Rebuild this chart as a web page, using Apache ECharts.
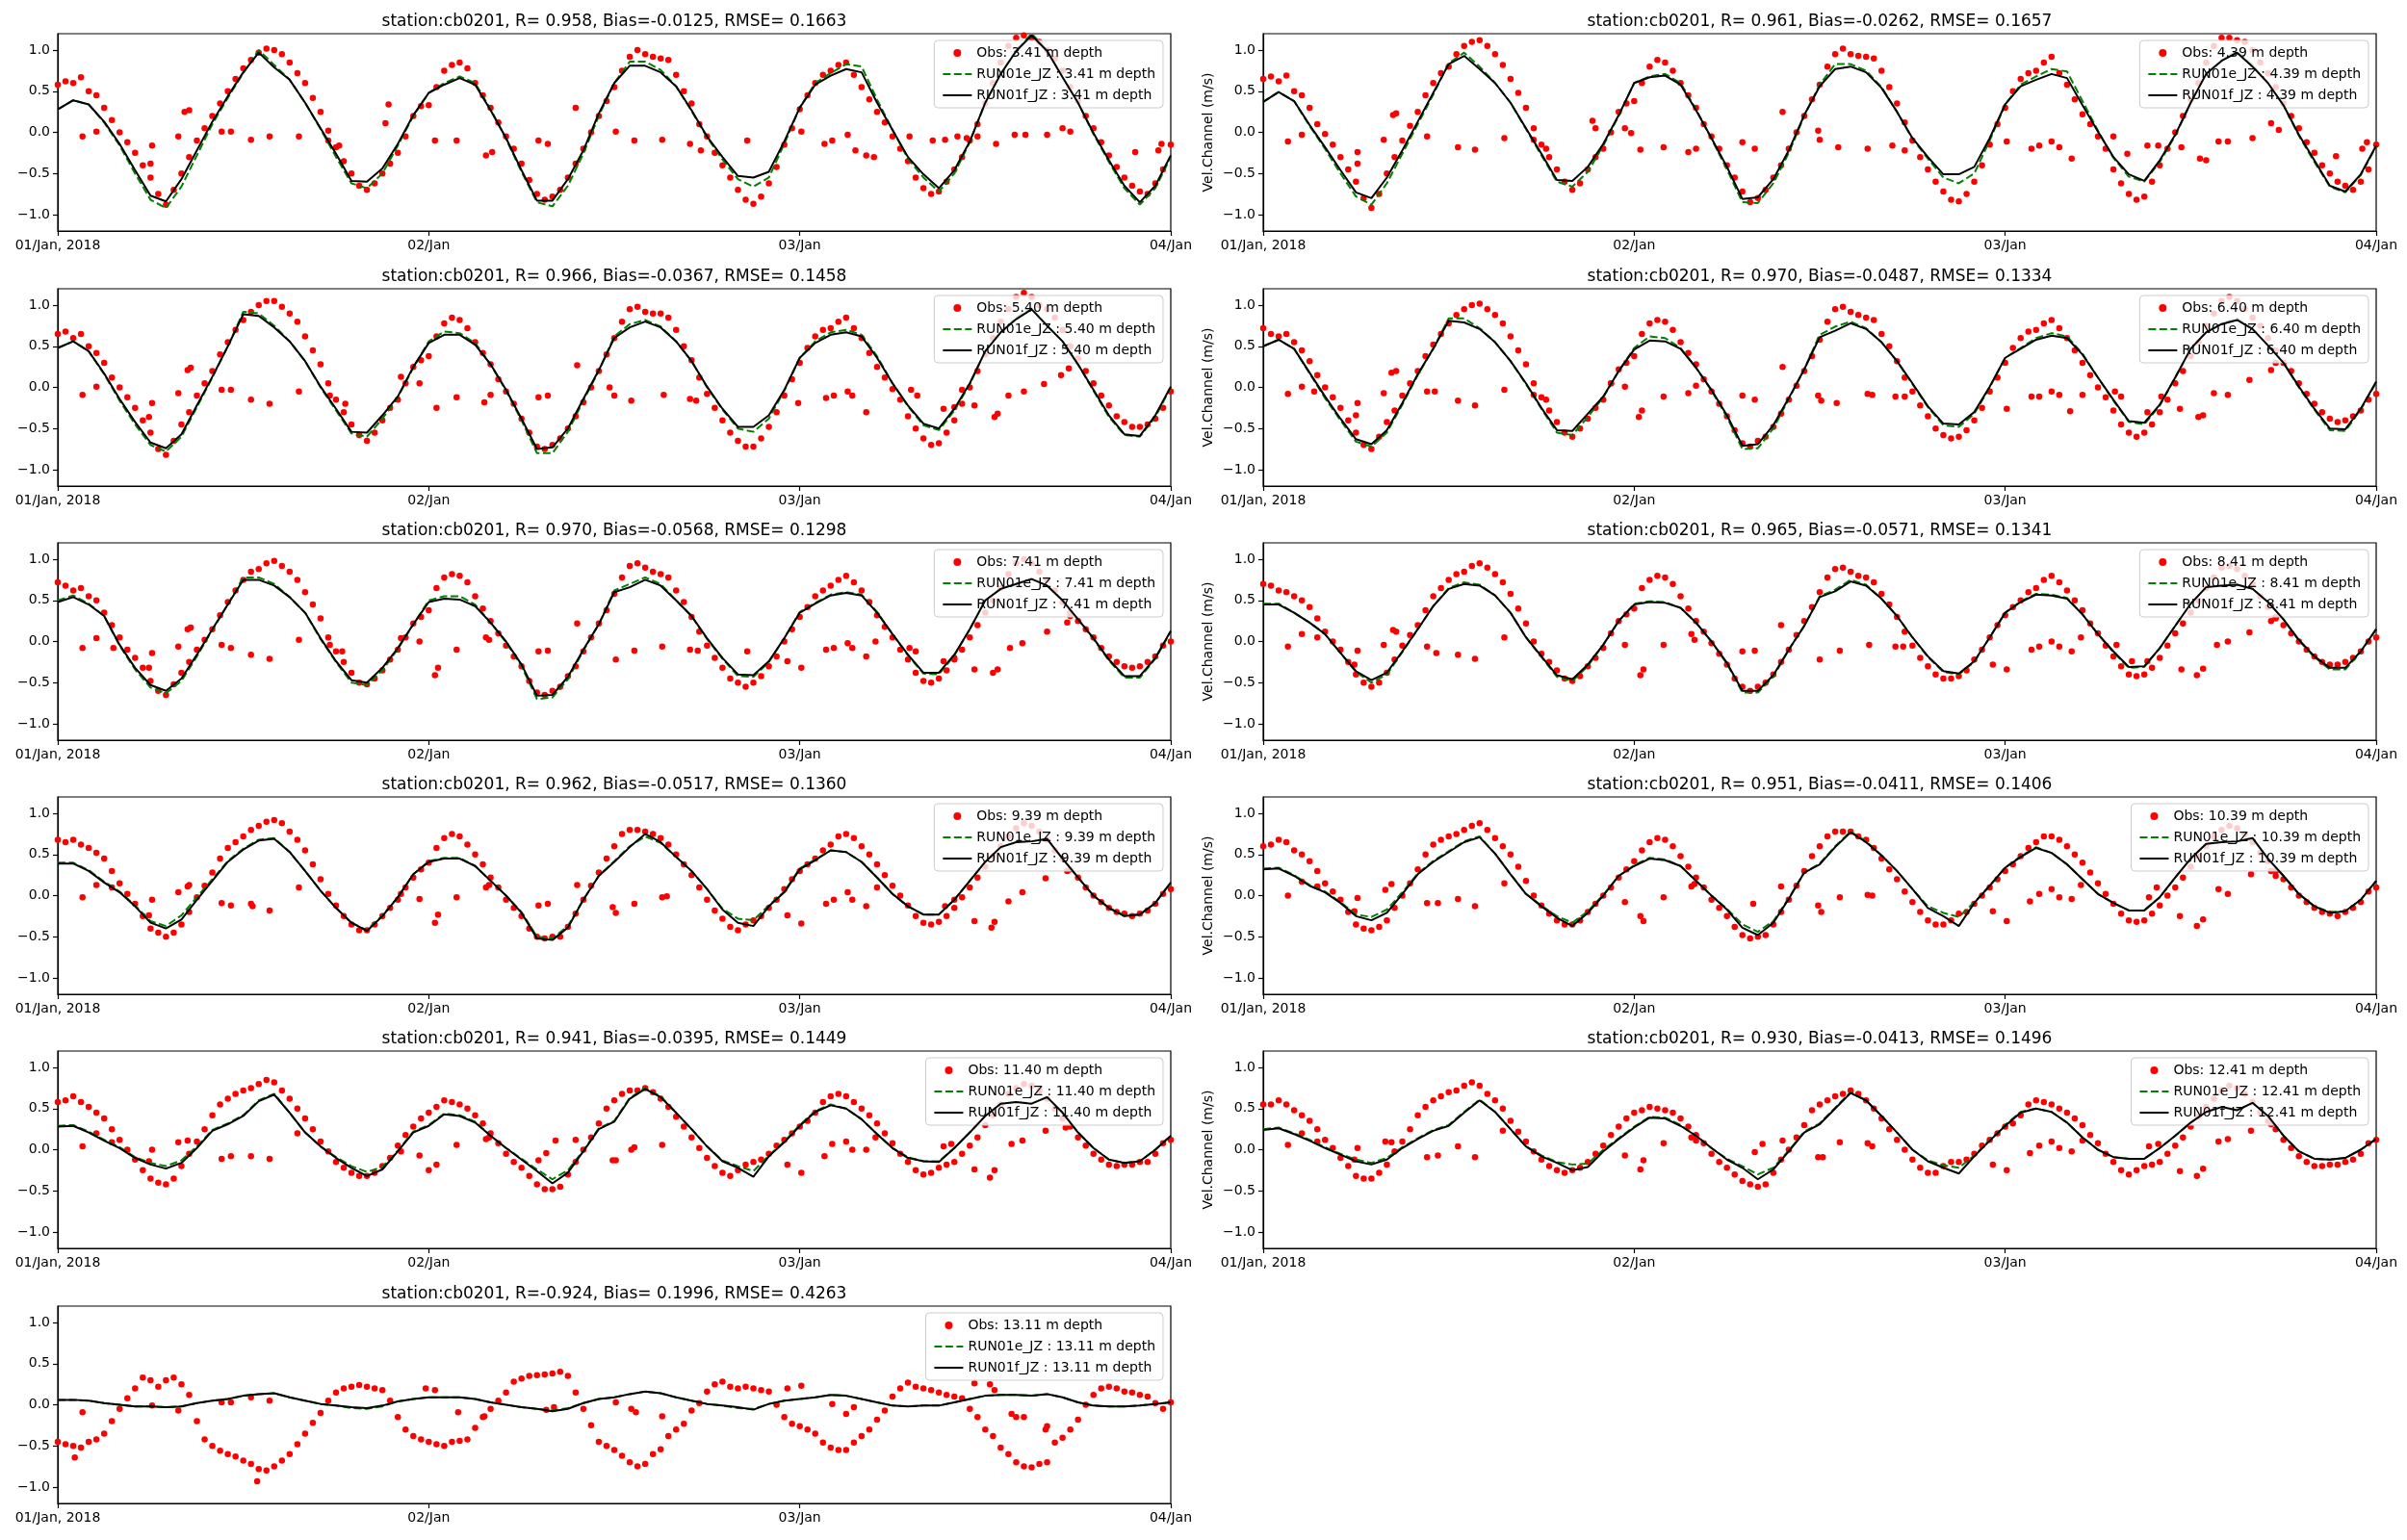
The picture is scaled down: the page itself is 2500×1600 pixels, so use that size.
<!DOCTYPE html>
<html><head><meta charset="utf-8">
<script src="https://cdn.jsdelivr.net/npm/echarts@6/dist/echarts.min.js"></script>
<style>html,body{margin:0;padding:0;background:#fff}#c{width:2500px;height:1600px}</style>
</head><body><div id="c"></div><script>
// ---------- labels ----------
const depths = ['3.41','4.39','5.40','6.40','7.41','8.41','9.39','10.39','11.40','12.41','13.11'];
const statR = [0.958,0.961,0.966,0.970,0.970,0.965,0.962,0.951,0.941,0.930,-0.924];
const statBias = [-0.0125,-0.0262,-0.0367,-0.0487,-0.0568,-0.0571,-0.0517,-0.0411,-0.0395,-0.0413,0.1996];
const statRMSE = [0.1663,0.1657,0.1458,0.1334,0.1298,0.1341,0.1360,0.1406,0.1449,0.1496,0.4263];
const xTickValues = [0,24,48,72];
const xTickLabels = ['01/Jan, 2018','02/Jan','03/Jan','04/Jan'];
const yTickValues = [-1,-0.5,0,0.5,1];
const yLabel = 'Vel.Channel (m/s)';

// ---------- data: obs every 30 min (h 0..72), models hourly, extra obs [h, v] ----------
const obs341 = [0.58,0.62,0.60,0.67,0.50,0.45,0.30,0.15,0.00,-0.12,-0.25,-0.40,
-0.55,-0.75,-0.88,-0.70,-0.50,-0.30,-0.10,0.05,0.20,0.35,0.50,0.65,
0.78,0.88,0.97,1.02,1.00,0.95,0.85,0.72,0.60,0.42,0.25,0.02,
-0.18,-0.35,-0.50,-0.65,-0.70,-0.62,-0.50,-0.38,-0.25,-0.05,0.20,0.32,
0.33,0.55,0.75,0.82,0.85,0.78,0.60,0.45,0.30,0.12,-0.05,-0.20,
-0.38,-0.58,-0.75,-0.82,-0.78,-0.70,-0.55,-0.38,-0.20,0.00,0.20,0.38,
0.55,0.75,0.92,1.00,0.95,0.92,0.90,0.88,0.70,0.50,0.35,0.10,
-0.05,-0.25,-0.40,-0.55,-0.70,-0.82,-0.87,-0.78,-0.62,-0.42,-0.15,0.05,
0.28,0.45,0.60,0.70,0.75,0.82,0.85,0.70,0.55,0.40,0.25,0.12,
-0.05,-0.20,-0.35,-0.55,-0.68,-0.75,-0.72,-0.60,-0.45,-0.30,-0.10,0.10,
0.35,0.60,0.85,1.05,1.15,1.18,1.15,1.10,1.00,0.90,0.75,0.55,
0.38,0.20,0.05,-0.12,-0.28,-0.42,-0.55,-0.65,-0.72,-0.75,-0.62,-0.45,
-0.15];
const extra341 = [[1.6,-0.05],[2.5,0.01],[6.1,-0.16],[6.0,-0.38],[7.8,-0.05],[8.5,0.27],[8.2,0.25],[10.6,0.01],[11.2,0.01],[12.5,-0.09],[13.7,-0.05],[15.6,-0.05],[17.5,-0.1],[18.2,-0.16],[21.2,0.11],[21.4,0.34],[24.4,-0.1],[25.8,-0.1],[27.7,-0.28],[28.1,-0.24],[31.1,-0.1],[31.7,-0.14],[33.5,0.3],[36.1,0.01],[37.3,-0.1],[39.1,-0.09],[40.9,-0.14],[41.6,-0.22],[44.6,-0.1],[48.1,0.01],[49.6,-0.14],[50.1,-0.1],[51.1,-0.03],[51.6,-0.22],[52.3,-0.28],[52.8,-0.3],[55.1,-0.05],[56.6,-0.1],[57.4,-0.09],[58.2,-0.05],[58.8,-0.07],[59.5,-0.05],[60.7,-0.14],[61.9,-0.03],[62.6,-0.03],[64.0,-0.03],[65.0,0.05],[65.5,0.01],[69.7,-0.24],[71.2,-0.22],[71.4,-0.14]];
const runF341 = [0.28,0.39,0.34,0.13,-0.14,-0.46,-0.77,-0.84,-0.57,-0.22,0.13,0.44,
0.73,0.97,0.79,0.64,0.36,0.05,-0.26,-0.59,-0.60,-0.44,-0.14,0.21,
0.48,0.58,0.66,0.58,0.27,-0.07,-0.46,-0.83,-0.83,-0.57,-0.22,0.23,
0.60,0.81,0.81,0.73,0.56,0.27,-0.05,-0.30,-0.53,-0.55,-0.48,-0.11,
0.30,0.58,0.69,0.77,0.73,0.36,0.03,-0.30,-0.51,-0.68,-0.46,-0.11,
0.36,0.71,0.99,1.18,0.99,0.67,0.36,-0.01,-0.34,-0.65,-0.85,-0.65,
-0.28];
const runE341 = [0.28,0.39,0.34,0.12,-0.16,-0.50,-0.82,-0.92,-0.66,-0.28,0.10,0.42,
0.72,1.00,0.82,0.64,0.36,0.04,-0.30,-0.62,-0.68,-0.50,-0.16,0.20,
0.48,0.60,0.68,0.60,0.28,-0.08,-0.48,-0.85,-0.90,-0.65,-0.26,0.20,
0.60,0.86,0.86,0.76,0.56,0.26,-0.06,-0.33,-0.57,-0.66,-0.55,-0.14,
0.30,0.60,0.72,0.83,0.80,0.40,0.03,-0.32,-0.55,-0.72,-0.50,-0.12,
0.36,0.72,1.00,1.20,1.00,0.68,0.36,-0.02,-0.36,-0.68,-0.88,-0.68,
-0.30];

const obs439 = [0.65,0.68,0.62,0.69,0.50,0.45,0.30,0.10,-0.02,-0.15,-0.30,-0.45,
-0.60,-0.80,-0.92,-0.75,-0.50,-0.30,-0.10,0.08,0.25,0.45,0.60,0.72,
0.80,0.95,1.05,1.10,1.12,1.05,0.95,0.82,0.65,0.48,0.30,0.05,
-0.15,-0.30,-0.45,-0.60,-0.70,-0.62,-0.45,-0.30,-0.20,0.00,0.25,0.35,
0.38,0.60,0.80,0.88,0.85,0.75,0.60,0.45,0.30,0.10,-0.05,-0.20,
-0.40,-0.55,-0.72,-0.85,-0.80,-0.70,-0.55,-0.40,-0.20,0.00,0.20,0.40,
0.58,0.80,0.95,1.02,0.95,0.93,0.92,0.90,0.75,0.55,0.35,0.12,
-0.10,-0.30,-0.45,-0.60,-0.72,-0.82,-0.84,-0.75,-0.60,-0.40,-0.15,0.10,
0.30,0.50,0.65,0.72,0.75,0.85,0.92,0.72,0.58,0.40,0.22,0.10,
-0.05,-0.20,-0.45,-0.62,-0.75,-0.82,-0.78,-0.60,-0.40,-0.20,0.00,0.20,
0.40,0.60,0.85,1.05,1.15,1.15,1.12,1.10,1.00,0.85,0.72,0.55,
0.35,0.20,0.05,-0.12,-0.25,-0.40,-0.50,-0.60,-0.65,-0.70,-0.60,-0.45,
-0.15];
const extra439 = [[1.6,-0.11],[2.5,-0.03],[6.1,-0.24],[6.1,-0.38],[7.8,-0.09],[8.4,0.21],[8.6,0.23],[10.6,-0.05],[12.6,-0.18],[13.7,-0.21],[15.6,-0.07],[17.5,-0.09],[18.3,-0.2],[21.3,0.14],[21.5,0.05],[23.4,0.05],[23.8,-0.01],[24.4,-0.21],[25.9,-0.18],[27.5,-0.24],[28.0,-0.2],[31.0,-0.12],[31.8,-0.2],[33.6,0.25],[35.9,0.02],[36.0,-0.09],[37.2,-0.18],[39.1,-0.2],[40.7,-0.16],[41.5,-0.22],[48.1,-0.11],[49.7,-0.2],[50.2,-0.16],[51.0,-0.11],[51.5,-0.18],[52.3,-0.32],[55.0,-0.05],[55.9,-0.26],[57.2,-0.16],[57.9,-0.16],[59.4,-0.18],[60.6,-0.32],[61.0,-0.34],[61.8,-0.11],[62.4,-0.11],[64.0,-0.07],[65.2,0.11],[65.7,0.03],[69.4,-0.29],[71.1,-0.2],[71.4,-0.12]];
const runF439 = [0.37,0.49,0.38,0.09,-0.18,-0.46,-0.73,-0.80,-0.55,-0.22,0.13,0.48,
0.83,0.93,0.77,0.60,0.36,0.05,-0.26,-0.58,-0.59,-0.42,-0.14,0.21,
0.60,0.67,0.69,0.58,0.27,-0.07,-0.42,-0.81,-0.79,-0.57,-0.22,0.21,
0.56,0.77,0.80,0.73,0.54,0.25,-0.07,-0.30,-0.51,-0.51,-0.42,-0.07,
0.34,0.56,0.64,0.71,0.66,0.33,0.01,-0.30,-0.51,-0.59,-0.34,-0.03,
0.36,0.71,0.87,0.97,0.80,0.60,0.33,-0.03,-0.34,-0.65,-0.72,-0.51,
-0.16];
const runE439 = [0.37,0.49,0.38,0.08,-0.20,-0.50,-0.78,-0.88,-0.62,-0.26,0.10,0.46,
0.84,0.97,0.80,0.60,0.36,0.04,-0.28,-0.60,-0.66,-0.48,-0.16,0.20,
0.60,0.68,0.71,0.60,0.28,-0.08,-0.45,-0.85,-0.86,-0.62,-0.25,0.20,
0.58,0.83,0.83,0.75,0.55,0.25,-0.08,-0.32,-0.55,-0.62,-0.50,-0.10,
0.34,0.58,0.68,0.77,0.74,0.38,0.02,-0.31,-0.54,-0.60,-0.36,-0.04,
0.36,0.71,0.88,0.99,0.82,0.60,0.33,-0.04,-0.36,-0.66,-0.73,-0.52,
-0.17];

const obs540 = [0.65,0.68,0.60,0.65,0.50,0.42,0.30,0.12,0.00,-0.12,-0.25,-0.40,
-0.55,-0.75,-0.82,-0.65,-0.45,-0.30,-0.10,0.05,0.20,0.40,0.55,0.70,
0.82,0.92,1.00,1.05,1.05,0.98,0.90,0.80,0.62,0.45,0.28,0.05,
-0.15,-0.30,-0.45,-0.58,-0.65,-0.55,-0.40,-0.25,-0.15,0.05,0.25,0.33,
0.38,0.62,0.78,0.85,0.82,0.72,0.55,0.42,0.28,0.10,-0.05,-0.20,
-0.38,-0.55,-0.72,-0.75,-0.70,-0.62,-0.50,-0.35,-0.18,0.00,0.20,0.40,
0.60,0.80,0.95,0.98,0.92,0.90,0.90,0.85,0.70,0.50,0.33,0.12,
-0.08,-0.25,-0.40,-0.55,-0.65,-0.72,-0.72,-0.62,-0.48,-0.30,-0.10,0.10,
0.30,0.48,0.62,0.70,0.72,0.80,0.85,0.72,0.60,0.42,0.25,0.12,
-0.02,-0.15,-0.35,-0.50,-0.62,-0.70,-0.68,-0.55,-0.40,-0.20,0.00,0.20,
0.40,0.60,0.80,0.95,1.10,1.15,1.10,1.00,0.95,0.85,0.70,0.50,
0.35,0.20,0.05,-0.10,-0.22,-0.35,-0.42,-0.48,-0.48,-0.45,-0.38,-0.25,
-0.05];
const extra540 = [[1.6,-0.09],[2.5,0.01],[6.1,-0.19],[5.9,-0.36],[7.8,-0.07],[8.4,0.21],[8.6,0.24],[10.6,-0.03],[11.2,-0.03],[12.5,-0.15],[13.7,-0.2],[15.6,-0.05],[17.6,-0.1],[18.6,-0.2],[22.2,0.13],[23.4,0.05],[24.5,-0.25],[25.8,-0.12],[27.6,-0.18],[28.0,-0.09],[31.1,-0.12],[31.7,-0.1],[33.6,0.27],[35.7,0.0],[36.0,-0.1],[37.1,-0.16],[39.2,-0.09],[40.9,-0.14],[41.3,-0.16],[47.9,-0.19],[49.7,-0.13],[50.2,-0.1],[51.1,-0.05],[51.4,-0.1],[52.3,-0.3],[55.2,-0.03],[55.6,-0.1],[57.3,-0.26],[58.0,-0.24],[58.5,-0.03],[59.3,-0.22],[60.6,-0.36],[60.8,-0.32],[61.5,-0.1],[62.5,-0.05],[63.8,0.04],[64.9,0.15],[65.4,0.23]];
const runF540 = [0.48,0.56,0.44,0.17,-0.14,-0.42,-0.67,-0.74,-0.57,-0.22,0.13,0.50,
0.89,0.87,0.73,0.56,0.32,0.01,-0.26,-0.54,-0.55,-0.34,-0.11,0.25,
0.54,0.64,0.64,0.52,0.28,-0.03,-0.38,-0.75,-0.73,-0.50,-0.14,0.21,
0.60,0.73,0.80,0.73,0.56,0.32,0.01,-0.26,-0.48,-0.48,-0.34,-0.03,
0.36,0.54,0.64,0.67,0.62,0.36,0.05,-0.22,-0.44,-0.50,-0.26,0.05,
0.44,0.67,0.83,0.95,0.75,0.56,0.28,-0.03,-0.34,-0.57,-0.59,-0.34,
0.01];
const runE540 = [0.48,0.56,0.44,0.16,-0.16,-0.45,-0.70,-0.78,-0.60,-0.24,0.12,0.50,
0.92,0.90,0.75,0.56,0.32,0.00,-0.28,-0.56,-0.60,-0.38,-0.12,0.24,
0.56,0.68,0.66,0.54,0.28,-0.04,-0.40,-0.80,-0.80,-0.54,-0.16,0.20,
0.62,0.77,0.82,0.74,0.56,0.32,0.00,-0.27,-0.50,-0.54,-0.38,-0.04,
0.36,0.56,0.67,0.70,0.64,0.38,0.05,-0.23,-0.46,-0.52,-0.28,0.04,
0.44,0.68,0.85,0.97,0.76,0.56,0.28,-0.04,-0.36,-0.58,-0.60,-0.36,
0.00];

const obs640 = [0.72,0.65,0.62,0.65,0.55,0.45,0.32,0.15,0.00,-0.12,-0.25,-0.40,
-0.55,-0.70,-0.75,-0.60,-0.42,-0.28,-0.10,0.05,0.20,0.38,0.52,0.65,
0.78,0.88,0.95,1.00,1.02,0.95,0.88,0.78,0.62,0.45,0.28,0.05,
-0.12,-0.28,-0.42,-0.55,-0.60,-0.50,-0.38,-0.25,-0.15,0.05,0.22,0.30,
0.38,0.65,0.78,0.82,0.80,0.70,0.55,0.42,0.28,0.10,-0.05,-0.20,
-0.35,-0.52,-0.68,-0.72,-0.65,-0.60,-0.48,-0.32,-0.15,0.02,0.20,0.38,
0.58,0.80,0.95,0.98,0.92,0.88,0.85,0.82,0.65,0.50,0.32,0.12,
-0.05,-0.22,-0.35,-0.50,-0.58,-0.62,-0.60,-0.52,-0.40,-0.25,-0.05,0.12,
0.30,0.48,0.60,0.68,0.70,0.78,0.82,0.72,0.60,0.45,0.30,0.15,
0.00,-0.12,-0.28,-0.45,-0.55,-0.60,-0.55,-0.45,-0.30,-0.15,0.05,0.20,
0.38,0.55,0.75,0.90,1.05,1.10,1.05,0.95,0.85,0.75,0.60,0.45,
0.30,0.20,0.05,-0.08,-0.20,-0.30,-0.38,-0.42,-0.40,-0.35,-0.28,-0.15,
-0.08];
const extra640 = [[1.6,-0.08],[2.5,0.01],[3.3,-0.05],[6.1,-0.19],[6.0,-0.34],[7.8,-0.07],[8.3,0.18],[8.6,0.2],[10.6,-0.05],[11.1,-0.05],[12.6,-0.16],[13.7,-0.22],[15.6,-0.03],[17.5,-0.09],[18.3,-0.15],[22.5,0.05],[23.4,0.01],[24.3,-0.36],[24.5,-0.28],[25.9,-0.11],[27.5,-0.07],[28.0,0.02],[31.0,-0.1],[31.8,-0.15],[33.6,0.25],[35.9,-0.1],[36.1,-0.16],[37.1,-0.19],[39.1,-0.08],[39.4,-0.09],[40.9,-0.11],[41.5,-0.11],[48.1,-0.26],[49.7,-0.11],[50.2,-0.11],[51.0,-0.05],[51.5,-0.09],[52.2,-0.29],[53.0,-0.09],[55.1,-0.05],[55.5,-0.11],[57.2,-0.3],[58.1,-0.11],[59.3,-0.26],[60.5,-0.36],[60.8,-0.34],[61.5,-0.07],[62.4,-0.09],[63.8,0.09],[65.2,0.21],[65.5,0.3]];
const runF640 = [0.50,0.58,0.47,0.18,-0.11,-0.38,-0.63,-0.69,-0.52,-0.19,0.16,0.47,
0.81,0.79,0.71,0.55,0.32,0.05,-0.25,-0.52,-0.53,-0.32,-0.11,0.20,
0.46,0.57,0.56,0.47,0.24,-0.03,-0.34,-0.71,-0.69,-0.46,-0.13,0.22,
0.61,0.69,0.78,0.71,0.55,0.32,0.05,-0.23,-0.44,-0.45,-0.30,0.01,
0.36,0.47,0.58,0.63,0.60,0.40,0.12,-0.15,-0.41,-0.43,-0.21,0.12,
0.47,0.67,0.77,0.82,0.71,0.51,0.30,0.01,-0.26,-0.50,-0.51,-0.26,
0.07];
const runE640 = [0.50,0.58,0.47,0.17,-0.13,-0.40,-0.66,-0.72,-0.55,-0.21,0.15,0.47,
0.84,0.84,0.72,0.55,0.32,0.04,-0.26,-0.55,-0.58,-0.36,-0.12,0.20,
0.48,0.62,0.60,0.48,0.24,-0.04,-0.36,-0.75,-0.74,-0.50,-0.14,0.22,
0.64,0.74,0.80,0.72,0.55,0.32,0.04,-0.24,-0.46,-0.48,-0.32,0.00,
0.36,0.48,0.60,0.66,0.62,0.41,0.12,-0.16,-0.42,-0.45,-0.22,0.12,
0.47,0.68,0.78,0.84,0.72,0.51,0.30,0.00,-0.27,-0.52,-0.53,-0.27,
0.06];

const obs741 = [0.72,0.68,0.62,0.65,0.55,0.50,0.35,0.20,0.05,-0.10,-0.20,-0.32,
-0.48,-0.60,-0.65,-0.52,-0.38,-0.25,-0.10,0.02,0.15,0.32,0.48,0.62,
0.75,0.85,0.88,0.95,0.98,0.92,0.85,0.75,0.60,0.45,0.28,0.05,
-0.12,-0.25,-0.38,-0.50,-0.52,-0.45,-0.35,-0.22,-0.10,0.05,0.22,0.30,
0.38,0.65,0.78,0.82,0.80,0.72,0.55,0.40,0.25,0.10,-0.05,-0.18,
-0.30,-0.48,-0.62,-0.65,-0.60,-0.55,-0.42,-0.30,-0.12,0.05,0.22,0.38,
0.58,0.78,0.92,0.95,0.90,0.85,0.82,0.78,0.62,0.48,0.30,0.12,
-0.05,-0.20,-0.32,-0.45,-0.50,-0.55,-0.50,-0.42,-0.30,-0.18,0.00,0.15,
0.30,0.42,0.55,0.62,0.68,0.75,0.80,0.72,0.62,0.48,0.32,0.18,
0.05,-0.10,-0.22,-0.38,-0.48,-0.50,-0.45,-0.35,-0.22,-0.10,0.05,0.20,
0.35,0.50,0.65,0.82,0.95,1.00,0.95,0.85,0.75,0.62,0.48,0.35,
0.25,0.15,0.05,-0.08,-0.18,-0.25,-0.30,-0.32,-0.30,-0.25,-0.18,-0.05,
0.00];
const extra741 = [[1.6,-0.08],[2.5,0.04],[3.6,-0.08],[6.1,-0.14],[5.9,-0.32],[7.8,-0.06],[8.4,0.15],[8.6,0.17],[10.6,-0.04],[11.2,-0.08],[12.5,-0.16],[13.7,-0.21],[15.6,0.02],[17.6,-0.04],[18.4,-0.12],[22.2,0.04],[23.4,0.0],[24.4,-0.41],[24.6,-0.32],[25.8,-0.1],[27.7,0.05],[27.9,0.02],[31.1,-0.12],[31.7,-0.11],[33.6,0.22],[36.1,-0.22],[37.3,-0.11],[39.1,-0.06],[40.9,-0.1],[41.4,-0.11],[44.6,-0.12],[47.2,-0.24],[48.1,-0.32],[49.7,-0.1],[50.2,-0.08],[51.1,-0.02],[51.4,-0.08],[52.3,-0.18],[52.9,0.0],[55.1,-0.08],[55.5,-0.12],[57.3,-0.24],[58.0,-0.2],[59.3,-0.34],[60.5,-0.38],[60.8,-0.34],[61.6,-0.08],[62.4,-0.02],[64.0,0.12],[65.3,0.23],[65.5,0.31]];
const runF741 = [0.48,0.54,0.45,0.31,-0.04,-0.32,-0.53,-0.60,-0.45,-0.16,0.15,0.45,
0.75,0.75,0.68,0.54,0.35,0.04,-0.24,-0.47,-0.50,-0.32,-0.08,0.21,
0.48,0.52,0.51,0.43,0.23,0.00,-0.28,-0.66,-0.65,-0.43,-0.10,0.21,
0.60,0.66,0.75,0.68,0.50,0.31,0.04,-0.20,-0.40,-0.41,-0.24,0.04,
0.35,0.46,0.56,0.59,0.56,0.35,0.09,-0.16,-0.38,-0.38,-0.16,0.15,
0.50,0.64,0.70,0.76,0.68,0.50,0.27,0.04,-0.22,-0.42,-0.42,-0.20,
0.13];
const runE741 = [0.50,0.56,0.46,0.31,-0.05,-0.34,-0.56,-0.63,-0.48,-0.18,0.14,0.45,
0.78,0.78,0.70,0.54,0.35,0.03,-0.25,-0.50,-0.53,-0.35,-0.09,0.21,
0.50,0.55,0.55,0.45,0.23,-0.01,-0.30,-0.70,-0.68,-0.46,-0.11,0.21,
0.62,0.70,0.78,0.70,0.50,0.31,0.03,-0.21,-0.42,-0.43,-0.25,0.04,
0.36,0.47,0.57,0.60,0.57,0.36,0.09,-0.17,-0.39,-0.40,-0.17,0.15,
0.50,0.65,0.71,0.77,0.68,0.50,0.27,0.03,-0.23,-0.44,-0.44,-0.21,
0.12];

const obs841 = [0.70,0.68,0.62,0.60,0.55,0.50,0.42,0.28,0.12,0.00,-0.10,-0.25,
-0.40,-0.50,-0.55,-0.50,-0.38,-0.22,-0.05,0.08,0.20,0.38,0.55,0.65,
0.75,0.82,0.85,0.92,0.95,0.90,0.82,0.72,0.58,0.40,0.22,0.00,
-0.15,-0.25,-0.35,-0.45,-0.48,-0.42,-0.30,-0.20,-0.08,0.10,0.25,0.33,
0.40,0.65,0.75,0.80,0.78,0.70,0.55,0.40,0.25,0.12,-0.02,-0.15,
-0.28,-0.45,-0.55,-0.60,-0.55,-0.50,-0.40,-0.25,-0.10,0.08,0.25,0.42,
0.60,0.78,0.88,0.90,0.85,0.80,0.78,0.72,0.58,0.45,0.30,0.12,
-0.05,-0.20,-0.30,-0.40,-0.45,-0.45,-0.42,-0.35,-0.22,-0.10,0.05,0.20,
0.32,0.42,0.50,0.60,0.65,0.75,0.80,0.72,0.62,0.50,0.38,0.22,
0.10,-0.05,-0.18,-0.30,-0.40,-0.42,-0.40,-0.32,-0.20,-0.05,0.10,0.22,
0.35,0.50,0.65,0.78,0.90,0.92,0.88,0.80,0.70,0.55,0.42,0.30,
0.20,0.10,0.00,-0.10,-0.18,-0.25,-0.28,-0.28,-0.25,-0.20,-0.12,0.00,
0.05];
const extra841 = [[1.6,-0.06],[2.5,0.09],[3.5,0.05],[6.1,-0.11],[5.9,-0.28],[7.8,-0.04],[8.4,0.14],[8.6,0.12],[10.6,-0.06],[11.2,-0.14],[12.6,-0.16],[13.7,-0.21],[15.6,0.05],[23.4,-0.04],[24.4,-0.41],[24.6,-0.34],[25.9,-0.04],[27.7,0.09],[27.9,0.02],[31.0,-0.12],[31.8,-0.11],[33.5,0.2],[36.0,-0.22],[37.3,-0.11],[39.2,-0.04],[40.9,-0.06],[41.4,-0.06],[47.2,-0.28],[48.1,-0.34],[49.7,-0.1],[50.2,-0.06],[51.0,0.0],[51.5,-0.06],[52.3,-0.12],[52.9,0.05],[55.2,-0.04],[56.2,-0.24],[57.2,-0.24],[59.4,-0.34],[60.4,-0.41],[60.8,-0.33],[61.7,-0.04],[62.4,0.0],[63.8,0.11],[65.2,0.25],[65.5,0.28]];
const runF841 = [0.45,0.45,0.35,0.23,0.09,-0.14,-0.36,-0.47,-0.38,-0.12,0.15,0.43,
0.64,0.70,0.68,0.56,0.35,0.05,-0.18,-0.41,-0.46,-0.28,-0.04,0.25,
0.45,0.48,0.47,0.41,0.23,0.00,-0.26,-0.60,-0.60,-0.41,-0.10,0.19,
0.54,0.61,0.73,0.68,0.52,0.31,0.05,-0.18,-0.36,-0.39,-0.24,0.05,
0.35,0.48,0.57,0.56,0.52,0.33,0.09,-0.12,-0.31,-0.30,-0.08,0.19,
0.46,0.66,0.68,0.69,0.64,0.48,0.27,0.02,-0.18,-0.32,-0.32,-0.12,
0.15];
const runE841 = [0.46,0.46,0.35,0.23,0.09,-0.14,-0.37,-0.50,-0.40,-0.13,0.15,0.43,
0.65,0.72,0.69,0.56,0.35,0.05,-0.19,-0.43,-0.48,-0.30,-0.04,0.25,
0.46,0.49,0.48,0.41,0.23,0.00,-0.27,-0.62,-0.62,-0.43,-0.10,0.19,
0.55,0.63,0.75,0.69,0.52,0.31,0.05,-0.19,-0.37,-0.40,-0.25,0.05,
0.35,0.49,0.58,0.57,0.53,0.33,0.09,-0.13,-0.32,-0.31,-0.08,0.19,
0.46,0.66,0.69,0.70,0.64,0.48,0.27,0.01,-0.19,-0.34,-0.34,-0.13,
0.15];

const obs939 = [0.68,0.65,0.68,0.62,0.58,0.52,0.45,0.30,0.15,0.02,-0.10,-0.25,
-0.40,-0.45,-0.50,-0.45,-0.35,-0.20,-0.02,0.12,0.28,0.45,0.58,0.65,
0.72,0.80,0.85,0.90,0.92,0.88,0.78,0.68,0.55,0.38,0.20,0.02,
-0.12,-0.25,-0.35,-0.42,-0.42,-0.35,-0.25,-0.15,-0.05,0.10,0.22,0.32,
0.40,0.58,0.70,0.75,0.72,0.62,0.50,0.38,0.22,0.10,-0.05,-0.15,
-0.25,-0.40,-0.50,-0.52,-0.50,-0.50,-0.38,-0.22,-0.05,0.12,0.28,0.45,
0.60,0.75,0.80,0.80,0.78,0.75,0.70,0.62,0.50,0.38,0.25,0.10,
-0.05,-0.18,-0.28,-0.38,-0.42,-0.35,-0.30,-0.25,-0.15,-0.05,0.08,0.20,
0.30,0.38,0.45,0.55,0.62,0.72,0.75,0.70,0.60,0.50,0.38,0.25,
0.12,0.00,-0.12,-0.25,-0.33,-0.35,-0.32,-0.25,-0.15,-0.02,0.10,0.22,
0.35,0.48,0.60,0.72,0.82,0.88,0.85,0.78,0.68,0.55,0.45,0.32,
0.22,0.10,0.00,-0.08,-0.15,-0.20,-0.22,-0.25,-0.22,-0.18,-0.10,0.02,
0.08];
const extra939 = [[1.6,-0.02],[2.5,0.13],[3.5,0.1],[6.1,-0.05],[5.9,-0.24],[7.8,0.04],[8.4,0.11],[8.5,0.13],[10.6,-0.09],[11.2,-0.12],[12.5,-0.1],[12.6,-0.13],[13.7,-0.18],[15.6,0.1],[22.2,0.02],[23.4,-0.04],[24.4,-0.33],[24.6,-0.23],[25.8,-0.02],[27.7,0.1],[27.9,0.13],[31.1,-0.12],[31.7,-0.1],[33.6,0.13],[35.9,-0.14],[36.1,-0.21],[37.3,-0.1],[39.1,-0.02],[39.4,-0.01],[47.2,-0.24],[48.1,-0.34],[49.7,-0.1],[50.2,-0.05],[51.1,0.04],[51.4,-0.05],[52.3,-0.13],[53.0,0.1],[57.4,-0.13],[58.0,-0.05],[59.3,-0.31],[60.4,-0.39],[60.6,-0.32],[61.5,-0.07],[62.4,0.04],[63.9,0.21],[65.3,0.3]];
const runF939 = [0.39,0.39,0.30,0.16,0.04,-0.13,-0.33,-0.40,-0.29,-0.05,0.18,0.41,
0.56,0.67,0.69,0.53,0.30,0.06,-0.15,-0.33,-0.43,-0.25,-0.02,0.26,
0.41,0.45,0.45,0.36,0.18,0.00,-0.21,-0.52,-0.54,-0.39,-0.05,0.24,
0.41,0.59,0.75,0.65,0.47,0.30,0.08,-0.17,-0.33,-0.37,-0.13,0.04,
0.32,0.43,0.55,0.53,0.41,0.22,0.02,-0.13,-0.23,-0.23,-0.05,0.18,
0.41,0.59,0.65,0.66,0.69,0.45,0.22,0.00,-0.15,-0.25,-0.23,-0.09,
0.16];
const runE939 = [0.40,0.40,0.31,0.17,0.05,-0.12,-0.31,-0.37,-0.24,-0.02,0.20,0.42,
0.57,0.68,0.70,0.53,0.30,0.06,-0.15,-0.33,-0.42,-0.24,-0.02,0.26,
0.42,0.46,0.46,0.36,0.18,0.00,-0.20,-0.50,-0.52,-0.37,-0.05,0.24,
0.42,0.60,0.72,0.64,0.47,0.30,0.08,-0.16,-0.28,-0.30,-0.12,0.05,
0.33,0.44,0.55,0.53,0.41,0.22,0.02,-0.13,-0.23,-0.23,-0.05,0.18,
0.41,0.59,0.65,0.66,0.68,0.45,0.22,0.00,-0.15,-0.24,-0.23,-0.09,
0.16];

const obs1039 = [0.60,0.62,0.68,0.65,0.55,0.50,0.42,0.30,0.15,0.05,-0.05,-0.20,
-0.35,-0.40,-0.42,-0.38,-0.30,-0.15,0.00,0.15,0.32,0.50,0.62,0.68,
0.72,0.75,0.80,0.85,0.88,0.80,0.70,0.60,0.50,0.35,0.18,0.00,
-0.12,-0.22,-0.30,-0.35,-0.35,-0.30,-0.20,-0.10,0.00,0.10,0.22,0.32,
0.42,0.55,0.65,0.70,0.68,0.60,0.48,0.35,0.22,0.10,-0.05,-0.15,
-0.25,-0.38,-0.48,-0.52,-0.50,-0.48,-0.35,-0.20,-0.05,0.12,0.30,0.48,
0.60,0.72,0.78,0.78,0.78,0.72,0.68,0.58,0.45,0.32,0.20,0.05,
-0.08,-0.20,-0.30,-0.35,-0.35,-0.30,-0.22,-0.20,-0.10,0.00,0.10,0.20,
0.30,0.38,0.48,0.58,0.65,0.72,0.72,0.68,0.60,0.50,0.40,0.28,
0.15,0.02,-0.10,-0.22,-0.30,-0.32,-0.30,-0.22,-0.12,0.00,0.10,0.22,
0.35,0.48,0.60,0.72,0.80,0.85,0.82,0.75,0.65,0.52,0.42,0.30,
0.20,0.10,0.00,-0.08,-0.15,-0.20,-0.22,-0.25,-0.20,-0.15,-0.08,0.05,
0.10];
const extra1039 = [[1.6,0.0],[2.5,0.17],[3.5,0.11],[6.1,-0.03],[5.9,-0.19],[7.9,0.07],[8.3,0.14],[10.6,-0.09],[11.3,-0.09],[12.6,-0.04],[13.7,-0.13],[15.6,0.15],[23.4,-0.08],[24.4,-0.25],[24.6,-0.31],[25.9,-0.02],[27.7,0.11],[27.9,0.14],[31.7,-0.1],[33.5,0.11],[35.9,-0.12],[36.1,-0.2],[37.3,-0.02],[39.1,0.01],[39.4,0.0],[47.2,-0.19],[48.1,-0.31],[49.6,-0.07],[50.2,0.02],[51.0,0.08],[51.5,-0.02],[52.3,-0.04],[52.9,0.13],[57.3,-0.02],[57.8,0.1],[59.3,-0.25],[60.4,-0.37],[60.8,-0.29],[61.8,0.08],[62.4,0.02],[63.9,0.26],[65.2,0.3],[65.5,0.24]];
const runF1039 = [0.32,0.33,0.24,0.12,0.04,-0.09,-0.25,-0.30,-0.21,0.02,0.26,0.41,
0.53,0.65,0.71,0.51,0.26,0.02,-0.13,-0.27,-0.37,-0.21,0.00,0.24,
0.36,0.45,0.43,0.36,0.18,0.00,-0.17,-0.39,-0.48,-0.33,-0.04,0.28,
0.38,0.59,0.77,0.65,0.49,0.30,0.08,-0.15,-0.25,-0.37,-0.09,0.12,
0.34,0.47,0.58,0.52,0.38,0.20,0.02,-0.09,-0.18,-0.18,-0.02,0.22,
0.45,0.63,0.65,0.66,0.70,0.45,0.24,0.02,-0.13,-0.21,-0.19,-0.05,
0.18];
const runE1039 = [0.33,0.34,0.25,0.13,0.05,-0.08,-0.23,-0.26,-0.17,0.04,0.27,0.42,
0.54,0.66,0.72,0.51,0.26,0.02,-0.12,-0.25,-0.33,-0.19,0.01,0.24,
0.37,0.46,0.44,0.36,0.18,0.00,-0.16,-0.35,-0.44,-0.31,-0.03,0.28,
0.39,0.60,0.78,0.66,0.49,0.30,0.08,-0.13,-0.21,-0.26,-0.08,0.12,
0.34,0.48,0.59,0.52,0.38,0.20,0.02,-0.09,-0.18,-0.18,-0.02,0.22,
0.45,0.63,0.65,0.66,0.69,0.45,0.24,0.02,-0.13,-0.20,-0.19,-0.05,
0.18];

const obs1140 = [0.58,0.60,0.65,0.58,0.52,0.45,0.38,0.25,0.12,0.00,-0.12,-0.25,
-0.35,-0.40,-0.42,-0.35,-0.20,-0.05,0.10,0.25,0.42,0.55,0.62,0.68,
0.72,0.75,0.80,0.85,0.82,0.72,0.62,0.50,0.38,0.25,0.10,-0.02,
-0.15,-0.22,-0.28,-0.32,-0.32,-0.28,-0.20,-0.10,0.05,0.18,0.28,0.38,
0.45,0.52,0.60,0.58,0.55,0.50,0.42,0.32,0.20,0.08,-0.05,-0.15,
-0.22,-0.32,-0.42,-0.48,-0.48,-0.45,-0.30,-0.15,0.00,0.15,0.32,0.50,
0.60,0.68,0.72,0.72,0.75,0.70,0.62,0.52,0.40,0.28,0.15,0.02,
-0.10,-0.20,-0.28,-0.32,-0.25,-0.18,-0.15,-0.12,-0.05,0.05,0.12,0.20,
0.28,0.35,0.45,0.58,0.65,0.68,0.65,0.58,0.50,0.42,0.32,0.20,
0.08,-0.05,-0.15,-0.25,-0.30,-0.28,-0.22,-0.18,-0.15,-0.05,0.05,0.15,
0.30,0.42,0.55,0.68,0.75,0.80,0.78,0.72,0.62,0.50,0.38,0.28,
0.15,0.05,-0.05,-0.12,-0.18,-0.20,-0.18,-0.18,-0.15,-0.15,-0.05,0.08,
0.12];
const extra1140 = [[1.6,0.04],[2.5,0.2],[3.5,0.09],[6.1,0.0],[5.9,-0.14],[7.8,0.09],[8.4,0.11],[10.6,-0.11],[11.2,-0.08],[12.5,-0.08],[13.7,-0.11],[15.5,0.2],[22.2,-0.02],[23.4,-0.07],[24.0,-0.25],[24.5,-0.18],[25.8,0.06],[27.7,0.13],[27.9,0.15],[31.1,-0.13],[31.6,-0.04],[32.2,0.11],[33.5,0.12],[35.9,-0.13],[36.1,-0.13],[37.1,0.0],[37.3,0.03],[39.1,0.06],[47.2,-0.18],[48.1,-0.28],[49.6,-0.08],[50.1,0.07],[51.0,0.1],[51.4,0.0],[52.3,0.0],[52.9,0.15],[57.3,0.04],[57.8,0.07],[59.3,-0.24],[60.3,-0.34],[60.6,-0.25],[61.7,0.07],[62.4,0.11],[63.9,0.23],[65.2,0.27]];
const runF1140 = [0.28,0.29,0.21,0.11,0.02,-0.10,-0.18,-0.23,-0.16,0.02,0.23,0.31,
0.41,0.59,0.67,0.45,0.21,0.04,-0.10,-0.22,-0.32,-0.24,-0.02,0.21,
0.29,0.43,0.41,0.33,0.17,0.02,-0.12,-0.26,-0.41,-0.28,-0.02,0.25,
0.34,0.62,0.74,0.64,0.45,0.25,0.04,-0.14,-0.22,-0.33,-0.08,0.09,
0.29,0.46,0.54,0.50,0.37,0.19,0.02,-0.10,-0.14,-0.15,0.02,0.21,
0.41,0.56,0.58,0.56,0.64,0.45,0.21,0.02,-0.12,-0.16,-0.14,0.00,
0.17];
const runE1140 = [0.29,0.30,0.22,0.12,0.03,-0.09,-0.16,-0.20,-0.13,0.04,0.24,0.32,
0.42,0.60,0.68,0.45,0.21,0.04,-0.09,-0.20,-0.27,-0.21,-0.01,0.22,
0.30,0.44,0.42,0.34,0.17,0.02,-0.11,-0.24,-0.36,-0.25,-0.01,0.26,
0.35,0.63,0.75,0.65,0.45,0.25,0.04,-0.13,-0.20,-0.26,-0.07,0.10,
0.30,0.47,0.55,0.50,0.37,0.19,0.02,-0.09,-0.14,-0.14,0.02,0.21,
0.41,0.56,0.58,0.57,0.64,0.45,0.21,0.02,-0.12,-0.16,-0.14,0.00,
0.17];

const obs1241 = [0.55,0.55,0.60,0.55,0.48,0.42,0.35,0.25,0.12,0.02,-0.10,-0.20,
-0.32,-0.35,-0.35,-0.28,-0.18,-0.02,0.10,0.25,0.42,0.52,0.60,0.65,
0.70,0.72,0.78,0.82,0.78,0.68,0.60,0.50,0.35,0.22,0.10,-0.02,
-0.12,-0.20,-0.25,-0.28,-0.25,-0.22,-0.15,-0.05,0.05,0.18,0.28,0.38,
0.45,0.48,0.52,0.50,0.48,0.45,0.38,0.28,0.18,0.08,-0.05,-0.15,
-0.22,-0.30,-0.38,-0.42,-0.45,-0.42,-0.28,-0.12,0.00,0.15,0.30,0.48,
0.55,0.60,0.65,0.68,0.72,0.68,0.60,0.50,0.38,0.25,0.12,0.00,
-0.12,-0.22,-0.28,-0.28,-0.20,-0.15,-0.15,-0.12,-0.05,0.05,0.12,0.20,
0.28,0.32,0.42,0.55,0.60,0.58,0.55,0.50,0.45,0.38,0.30,0.18,
0.08,-0.05,-0.15,-0.25,-0.30,-0.25,-0.20,-0.18,-0.15,-0.05,0.05,0.15,
0.28,0.40,0.52,0.62,0.72,0.78,0.75,0.68,0.58,0.45,0.35,0.25,
0.12,0.02,-0.08,-0.15,-0.20,-0.20,-0.18,-0.18,-0.15,-0.12,-0.05,0.08,
0.12];
const extra1241 = [[1.6,0.06],[2.5,0.2],[3.5,0.1],[6.1,0.02],[5.9,-0.12],[7.9,0.1],[8.3,0.09],[10.6,-0.09],[11.3,-0.07],[12.6,0.04],[13.7,-0.09],[15.5,0.23],[23.4,-0.07],[24.4,-0.24],[24.6,-0.13],[25.9,0.08],[27.7,0.15],[28.0,0.11],[31.8,-0.03],[32.3,0.07],[33.6,0.11],[35.9,-0.09],[36.2,-0.09],[37.3,0.09],[39.1,0.08],[39.4,0.04],[47.2,-0.18],[48.1,-0.25],[49.6,-0.04],[50.2,0.05],[51.0,0.1],[51.5,0.02],[52.3,-0.02],[53.0,0.11],[57.3,0.04],[57.9,0.07],[59.3,-0.26],[60.4,-0.32],[60.8,-0.23],[61.8,0.1],[62.4,0.13],[63.9,0.23],[65.2,0.31]];
const runF1241 = [0.24,0.26,0.19,0.11,0.02,-0.06,-0.14,-0.18,-0.12,0.02,0.13,0.23,
0.29,0.45,0.60,0.46,0.25,0.04,-0.08,-0.16,-0.25,-0.21,-0.02,0.13,
0.27,0.39,0.38,0.29,0.17,0.02,-0.12,-0.22,-0.36,-0.24,-0.02,0.21,
0.31,0.50,0.69,0.60,0.41,0.21,0.00,-0.14,-0.22,-0.29,-0.08,0.11,
0.29,0.45,0.50,0.46,0.33,0.15,0.00,-0.09,-0.11,-0.11,0.02,0.17,
0.33,0.46,0.52,0.48,0.57,0.41,0.17,-0.02,-0.11,-0.12,-0.10,0.00,
0.13];
const runE1241 = [0.25,0.27,0.20,0.12,0.03,-0.05,-0.12,-0.16,-0.10,0.03,0.14,0.24,
0.30,0.46,0.61,0.46,0.25,0.04,-0.07,-0.15,-0.18,-0.17,0.00,0.14,
0.28,0.40,0.39,0.30,0.17,0.02,-0.11,-0.20,-0.30,-0.22,-0.01,0.22,
0.32,0.51,0.70,0.60,0.41,0.21,0.00,-0.13,-0.19,-0.22,-0.07,0.12,
0.30,0.46,0.50,0.46,0.33,0.15,0.00,-0.09,-0.11,-0.11,0.02,0.17,
0.33,0.46,0.52,0.48,0.56,0.41,0.17,-0.02,-0.11,-0.12,-0.10,0.00,
0.13];

const obs1311 = [-0.45,-0.48,-0.50,-0.52,-0.45,-0.42,-0.35,-0.20,-0.05,0.08,0.20,0.33,
0.30,0.22,0.30,0.33,0.25,0.12,-0.20,-0.42,-0.50,-0.56,-0.60,-0.63,
-0.68,-0.72,-0.78,-0.80,-0.75,-0.68,-0.60,-0.48,-0.35,-0.22,-0.10,0.05,
0.15,0.20,0.22,0.24,0.22,0.20,0.18,0.05,-0.15,-0.30,-0.38,-0.42,
-0.45,-0.48,-0.50,-0.45,-0.44,-0.42,-0.28,-0.15,-0.05,0.05,0.15,0.28,
0.32,0.35,0.36,0.37,0.38,0.40,0.35,0.15,-0.05,-0.25,-0.45,-0.50,
-0.55,-0.62,-0.70,-0.75,-0.72,-0.60,-0.54,-0.38,-0.30,-0.23,-0.07,0.02,
0.16,0.25,0.28,0.22,0.20,0.22,0.20,0.18,0.16,0.00,-0.15,-0.23,
-0.26,-0.30,-0.35,-0.46,-0.52,-0.55,-0.55,-0.46,-0.38,-0.30,-0.18,-0.07,
0.10,0.20,0.27,0.22,0.20,0.18,0.15,0.12,0.10,0.08,-0.05,-0.15,
-0.30,-0.38,-0.52,-0.60,-0.70,-0.75,-0.76,-0.72,-0.70,-0.46,-0.40,-0.30,
-0.18,0.00,0.12,0.20,0.22,0.20,0.16,0.15,0.12,0.10,0.02,-0.05,
0.03];
const extra1311 = [[1.1,-0.64],[1.6,-0.09],[6.1,-0.01],[7.8,-0.07],[10.6,0.03],[11.2,0.03],[12.5,0.09],[12.9,-0.93],[13.7,0.05],[23.8,0.2],[24.4,0.18],[25.9,-0.09],[27.6,-0.14],[31.6,-0.06],[32.1,-0.03],[36.1,0.03],[37.1,-0.05],[37.4,-0.09],[39.1,-0.14],[47.2,0.2],[48.1,0.23],[50.1,0.01],[51.0,-0.11],[51.5,-0.03],[59.3,0.26],[60.3,0.25],[60.6,0.18],[61.7,-0.11],[62.0,-0.15],[62.5,-0.15],[63.9,-0.3],[64.0,-0.26]];
const runF1311 = [0.06,0.06,0.05,0.02,0.00,-0.02,-0.02,-0.03,-0.02,0.02,0.05,0.07,
0.11,0.13,0.14,0.09,0.05,0.01,-0.01,-0.03,-0.04,-0.01,0.04,0.07,
0.09,0.09,0.09,0.07,0.03,0.00,-0.03,-0.05,-0.08,-0.05,0.02,0.07,
0.09,0.13,0.16,0.14,0.09,0.05,0.01,-0.01,-0.03,-0.06,0.01,0.05,
0.07,0.09,0.12,0.11,0.07,0.03,-0.01,-0.02,-0.01,-0.01,0.03,0.07,
0.11,0.12,0.12,0.11,0.13,0.09,0.03,-0.01,-0.02,-0.02,-0.01,0.01,
0.03];
const runE1311 = [0.06,0.06,0.05,0.02,0.00,-0.02,-0.02,-0.03,-0.02,0.02,0.05,0.07,
0.11,0.13,0.14,0.09,0.05,0.01,-0.01,-0.04,-0.05,-0.02,0.04,0.07,
0.09,0.09,0.09,0.07,0.03,0.00,-0.03,-0.05,-0.07,-0.04,0.02,0.07,
0.09,0.13,0.16,0.14,0.09,0.05,0.01,-0.01,-0.04,-0.05,0.01,0.05,
0.07,0.09,0.12,0.11,0.07,0.03,-0.01,-0.02,-0.01,-0.01,0.03,0.07,
0.11,0.12,0.12,0.11,0.13,0.09,0.03,-0.01,-0.02,-0.02,-0.01,0.01,
0.03];

// ---------- assemble ----------
const obsMain  = [obs341,obs439,obs540,obs640,obs741,obs841,obs939,obs1039,obs1140,obs1241,obs1311];
const obsExtra = [extra341,extra439,extra540,extra640,extra741,extra841,extra939,extra1039,extra1140,extra1241,extra1311];
const runE = [runE341,runE439,runE540,runE640,runE741,runE841,runE939,runE1039,runE1140,runE1241,runE1311];
const runF = [runF341,runF439,runF540,runF640,runF741,runF841,runF939,runF1039,runF1140,runF1241,runF1311];

const FONT = 'DejaVu Sans';
const colLeft = [60, 1312];
const rowTop = [35, 300, 564, 828, 1092, 1357];
const GW = 1156, GH = 205;
const fmt = (v, d) => (v < 0 ? '-' : ' ') + Math.abs(v).toFixed(d);
const hiddenMarker = {color:'rgba(0,0,0,0)', borderWidth:0, opacity:0};

const option = {animation:false, backgroundColor:'#ffffff', grid:[], xAxis:[], yAxis:[], series:[], title:[], legend:[]};

depths.forEach((d, i) => {
  const col = i % 2, row = Math.floor(i / 2);
  const L = colLeft[col], T = rowTop[row];
  option.grid.push({left:L, top:T, width:GW, height:GH, show:true, borderColor:'#000', borderWidth:1.2, backgroundColor:'transparent'});
  option.title.push({
    text:'station:cb0201, R=' + fmt(statR[i],3) + ', Bias=' + fmt(statBias[i],4) + ', RMSE=' + fmt(statRMSE[i],4),
    left:L + GW/2, top:T - 21, textAlign:'center', padding:0,
    textStyle:{fontSize:17, fontWeight:'normal', color:'#000', fontFamily:FONT}
  });
  option.xAxis.push({
    gridIndex:i, type:'value', min:0, max:72, interval:24,
    axisLine:{show:true, onZero:false, lineStyle:{color:'#000', width:1.2}},
    axisTick:{show:true, inside:false, length:5, lineStyle:{color:'#000', width:1.2}},
    axisLabel:{show:true, margin:8, fontSize:14, color:'#000', fontFamily:FONT, showMinLabel:true, showMaxLabel:true,
      formatter: v => { const k = xTickValues.indexOf(v); return k >= 0 ? xTickLabels[k] : ''; }},
    splitLine:{show:false}
  });
  const ya = {
    gridIndex:i, type:'value', min:-1.2, max:1.2,
    axisLine:{show:true, onZero:false, lineStyle:{color:'#000', width:1.2}},
    axisTick:{show:true, inside:false, length:5, customValues:yTickValues, lineStyle:{color:'#000', width:1.2}},
    axisLabel:{show:true, margin:8, fontSize:14, color:'#000', fontFamily:FONT, customValues:yTickValues,
      formatter: v => (v < 0 ? '\u2212' : '') + Math.abs(v).toFixed(1)},
    splitLine:{show:false}
  };
  if (col === 1) {
    ya.name = yLabel; ya.nameLocation = 'middle'; ya.nameGap = 50; ya.nameRotate = 90;
    ya.nameTextStyle = {fontSize:14, color:'#000', fontFamily:FONT};
  }
  option.yAxis.push(ya);

  const nObs = 'Obs: ' + d + ' m depth';
  const nE = 'RUN01e_JZ : ' + d + ' m depth';
  const nF = 'RUN01f_JZ : ' + d + ' m depth';
  option.series.push({
    type:'scatter', name:nObs, xAxisIndex:i, yAxisIndex:i, symbol:'circle', symbolSize:6.5,
    itemStyle:{color:'#ff0000', opacity:1}, silent:true, z:2,
    data: obsMain[i].map((v, k) => [k * 0.5, v]).concat(obsExtra[i])
  });
  option.series.push({
    type:'line', name:nE, xAxisIndex:i, yAxisIndex:i, symbol:'none', showSymbol:false, silent:true, z:3,
    lineStyle:{color:'#008000', width:2, type:[8,3.5]}, itemStyle:{color:'#008000'},
    data: runE[i].map((v, k) => [k, v])
  });
  option.series.push({
    type:'line', name:nF, xAxisIndex:i, yAxisIndex:i, symbol:'none', showSymbol:false, silent:true, z:4,
    lineStyle:{color:'#000000', width:2}, itemStyle:{color:'#000000'},
    data: runF[i].map((v, k) => [k, v])
  });
  option.legend.push({
    data:[
      {name:nObs, icon:'circle'},
      {name:nE, itemStyle:hiddenMarker, lineStyle:{color:'#008000', width:2, type:[8,3.5]}},
      {name:nF, itemStyle:hiddenMarker, lineStyle:{color:'#000000', width:2}}
    ],
    orient:'vertical', right: 2500 - (L + GW - 8), top:T + 7,
    itemWidth:30, itemHeight:8, itemGap:6, selectedMode:false,
    textStyle:{fontSize:14, color:'#000', fontFamily:FONT, lineHeight:16},
    backgroundColor:'rgba(255,255,255,0.8)', borderColor:'#cccccc', borderWidth:1, borderRadius:4,
    padding:[5,8,5,8]
  });
});

const chart = echarts.init(document.getElementById('c'), null, {renderer:'canvas', width:2500, height:1600});
chart.setOption(option);
</script></body></html>
